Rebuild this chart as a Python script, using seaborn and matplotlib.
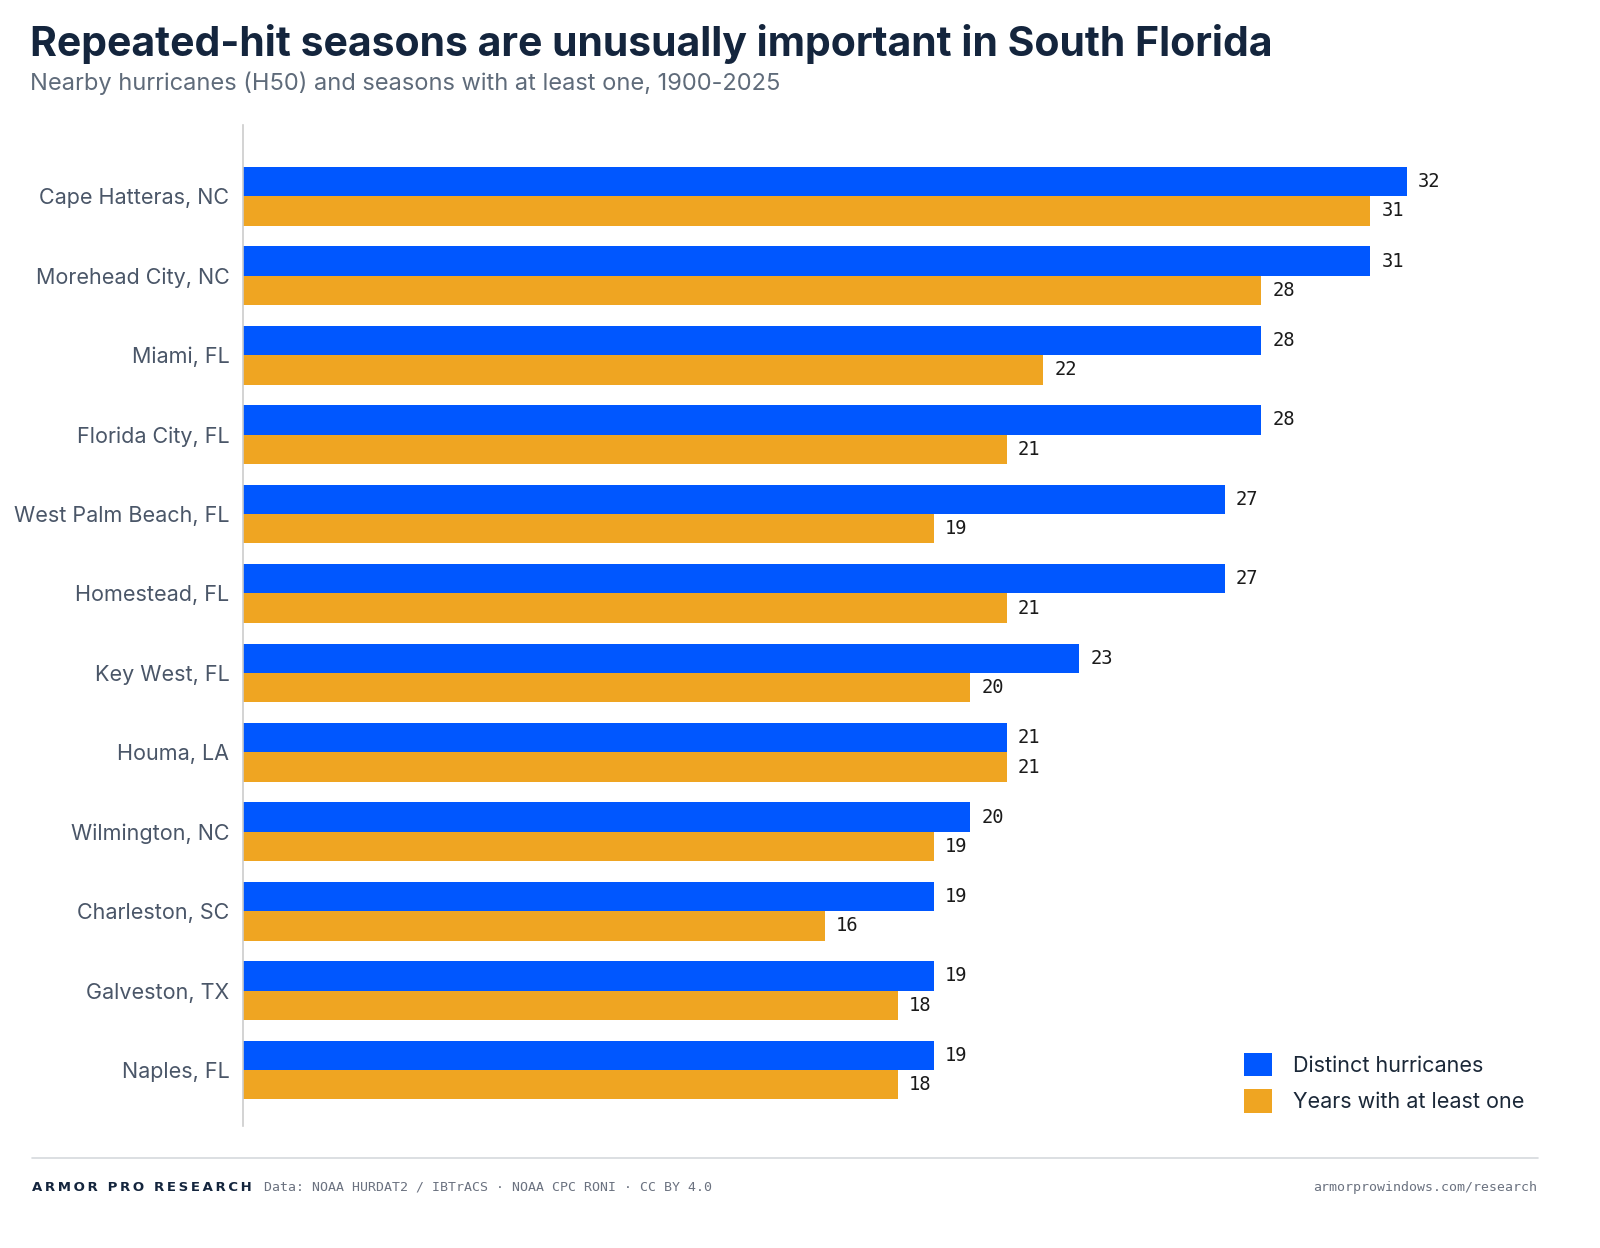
import matplotlib
matplotlib.use('Agg')
import matplotlib.pyplot as plt
import seaborn as sns
import pandas as pd

cities = ['Cape Hatteras, NC', 'Morehead City, NC', 'Miami, FL', 'Florida City, FL',
          'West Palm Beach, FL', 'Homestead, FL', 'Key West, FL', 'Houma, LA',
          'Wilmington, NC', 'Charleston, SC', 'Galveston, TX', 'Naples, FL']
distinct = [32, 31, 28, 28, 27, 27, 23, 21, 20, 19, 19, 19]
years = [31, 28, 22, 21, 19, 21, 20, 21, 19, 16, 18, 18]
series = ['Distinct hurricanes', 'Years with at least one']

df = pd.DataFrame({'city': cities * 2,
                   'value': distinct + years,
                   'series': [series[0]] * len(cities) + [series[1]] * len(cities)})

sns.set_theme(style='white')
plt.rcParams['font.family'] = ['Inter', 'DejaVu Sans']

fig = plt.figure(figsize=(16, 12.48), dpi=100)
ax = fig.add_axes([0.152, 0.098, 0.809, 0.802])
sns.barplot(data=df, y='city', x='value', hue='series', orient='h',
            palette=['#0057ff', '#efa522'], width=0.74, saturation=1,
            ax=ax, edgecolor='none')

for cont in ax.containers:
    ax.bar_label(cont, padding=8, fontsize=13.5, family='DejaVu Sans Mono', color='#1a1a1a')

ax.set_xlim(0, 35.6)
ax.set_ylim(11.7, -0.9)
ax.set_xticks([])
ax.set_xlabel('')
ax.set_ylabel('')
ax.tick_params(axis='y', length=0, labelsize=15.5, labelcolor='#4a5668', pad=10)
for s in ['top', 'right', 'bottom']:
    ax.spines[s].set_visible(False)
ax.spines['left'].set_color('#cccccc')
ax.spines['left'].set_linewidth(1.2)

leg = ax.legend(loc='lower right', frameon=False, fontsize=15.5, handlelength=1.3,
                handleheight=1.3, handletextpad=1.0, labelspacing=0.6,
                borderaxespad=0.2)
for t in leg.get_texts():
    t.set_color('#1b2838')

fig.text(0.019, 0.955, 'Repeated-hit seasons are unusually important in South Florida',
         fontsize=29.5, fontweight='bold', color='#14253d')
fig.text(0.019, 0.928, 'Nearby hurricanes (H50) and seasons with at least one, 1900-2025',
         fontsize=17, color='#5f6b7a')

fig.add_artist(plt.Line2D([0.02, 0.961], [0.072, 0.072], color='#d6d9dd', linewidth=1.2))
brand = '\u2009'.join('ARMOR PRO RESEARCH')
fig.text(0.02, 0.046, brand, fontsize=9.5, fontweight='bold',
         color='#14253d', family='DejaVu Sans')
fig.text(0.165, 0.046, 'Data: NOAA HURDAT2 / IBTrACS · NOAA CPC RONI · CC BY 4.0',
         fontsize=9.5, color='#6b7280', family='DejaVu Sans Mono')
fig.text(0.961, 0.046, 'armorprowindows.com/research', fontsize=9.5, color='#6b7280',
         family='DejaVu Sans Mono', ha='right')

fig.savefig('out.png', dpi=100, facecolor='white')
